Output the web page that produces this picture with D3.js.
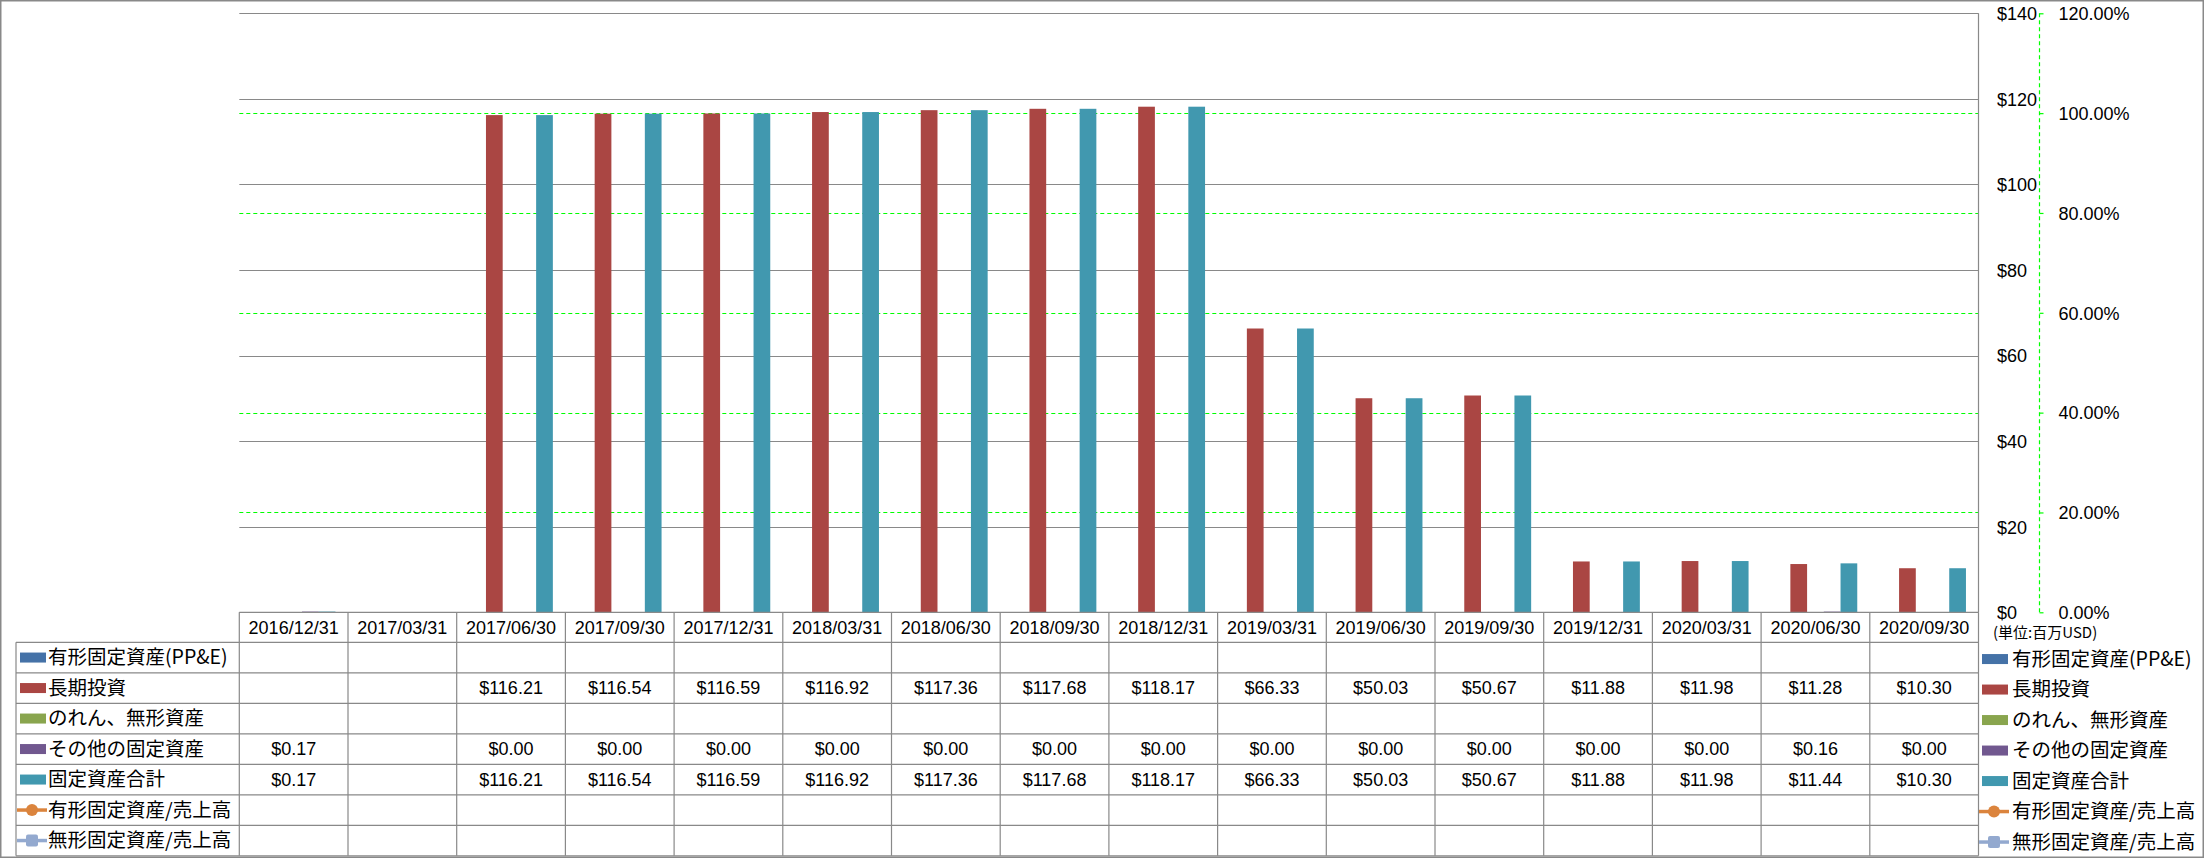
<!DOCTYPE html>
<html><head><meta charset="utf-8">
<script src="https://cdn.jsdelivr.net/npm/d3@7"></script>
<style>
html,body{margin:0;padding:0;background:#fff;}
svg{display:block;}
.lat{font-family:"Liberation Sans",Arial,sans-serif;font-size:18px;fill:#000;}
.jp{font-family:"Noto Sans CJK JP","Noto Sans CJK SC",sans-serif;font-size:19.5px;fill:#000;}
</style>
</head><body>
<svg id="chart" width="2205" height="858"></svg>
<script>
// ---- data ----
const categories = ["2016/12/31","2017/03/31","2017/06/30","2017/09/30","2017/12/31","2018/03/31","2018/06/30","2018/09/30","2018/12/31","2019/03/31","2019/06/30","2019/09/30","2019/12/31","2020/03/31","2020/06/30","2020/09/30"];
const ppe = [null,null,null,null,null,null,null,null,null,null,null,null,null,null,null,null];
const longTermInv = [null,null,116.21,116.54,116.59,116.92,117.36,117.68,118.17,66.33,50.03,50.67,11.88,11.98,11.28,10.30];
const goodwill = [null,null,null,null,null,null,null,null,null,null,null,null,null,null,null,null];
const otherFixed = [0.17,null,0.00,0.00,0.00,0.00,0.00,0.00,0.00,0.00,0.00,0.00,0.00,0.00,0.16,0.00];
const totalFixed = [0.17,null,116.21,116.54,116.59,116.92,117.36,117.68,118.17,66.33,50.03,50.67,11.88,11.98,11.44,10.30];
const ppeRatio = [null,null,null,null,null,null,null,null,null,null,null,null,null,null,null,null];
const intangRatio = [null,null,null,null,null,null,null,null,null,null,null,null,null,null,null,null];
const yTicks = [0,20,40,60,80,100,120,140];
const y2Ticks = [0,0.2,0.4,0.6,0.8,1.0,1.2];
const unitLabel = "(単位:百万USD)";

const barSeries = [
  {name:"有形固定資産(PP&E)", values:ppe, color:"#4572A7"},
  {name:"長期投資", values:longTermInv, color:"#AA4643"},
  {name:"のれん、無形資産", values:goodwill, color:"#89A54E"},
  {name:"その他の固定資産", values:otherFixed, color:"#71588F"},
  {name:"固定資産合計", values:totalFixed, color:"#4198AF"}
];
const lineSeries = [
  {name:"有形固定資産/売上高", values:ppeRatio, color:"#DB843D", marker:"circle"},
  {name:"無形固定資産/売上高", values:intangRatio, color:"#93A9CF", marker:"square"}
];
const allSeries = barSeries.concat(lineSeries);

// ---- layout ----
const W = 2205, H = 858;
const plotL = 239.3, plotR = 1978.5, plotT = 13.3, plotB = 612.3;
const tableL = 16, rowH = 30.5, headerH = 30;
const gray = "#898989";
const green = "#00FF00";

const svg = d3.select("#chart");
svg.append("rect").attr("x",0).attr("y",0).attr("width",W).attr("height",H).attr("fill","#fff");

const x = d3.scaleBand().domain(categories).range([plotL, plotR]).paddingInner(0).paddingOuter(0);
const xs = d3.scaleBand().domain(barSeries.map(s=>s.name)).range([0, x.bandwidth()]).paddingInner(0).paddingOuter(0.75);
const y = d3.scaleLinear().domain([0,140]).range([plotB, plotT]);
const y2 = d3.scaleLinear().domain([0,1.2]).range([plotB, plotT]);

// primary gridlines
svg.append("g").selectAll("line").data(yTicks).join("line")
  .attr("x1",plotL).attr("x2",plotR)
  .attr("y1",d=>Math.round(y(d))+0.5).attr("y2",d=>Math.round(y(d))+0.5)
  .attr("stroke",gray).attr("stroke-width",1.2);

// secondary gridlines (green dashed)
svg.append("g").selectAll("line").data(y2Ticks.filter(d=>d>0 && d<1.2)).join("line")
  .attr("x1",plotL).attr("x2",plotR)
  .attr("y1",d=>Math.round(y2(d))+0.5).attr("y2",d=>Math.round(y2(d))+0.5)
  .attr("stroke",green).attr("stroke-width",1.2).attr("stroke-dasharray","4,3");

// bars
const gBars = svg.append("g");
barSeries.forEach(s=>{
  gBars.append("g").selectAll("rect")
    .data(categories.map((c,i)=>({c, v:s.values[i]})).filter(d=>d.v!==null))
    .join("rect")
    .attr("x",d=>x(d.c)+xs(s.name))
    .attr("width",xs.bandwidth())
    .attr("y",d=>y(d.v))
    .attr("height",d=>y(0)-y(d.v))
    .attr("fill",s.color);
});

// right-side primary axis labels
const axisR = d3.axisRight(y).tickValues(yTicks).tickSize(0).tickPadding(0).tickFormat(d=>"$"+d);
const gAx = svg.append("g").attr("transform",`translate(1997,0)`).call(axisR);
gAx.select(".domain").remove();
gAx.selectAll("text").attr("class","lat").attr("font-family",null).attr("font-size",null).attr("fill","#000").attr("dy","0.35em");

// secondary axis (green dashed)
const axisR2 = d3.axisRight(y2).tickValues(y2Ticks).tickSize(4).tickPadding(15).tickFormat(d3.format(".2%"));
const gAx2 = svg.append("g").attr("transform",`translate(2039.5,0)`).call(axisR2);
gAx2.select(".domain").attr("stroke",green).attr("stroke-dasharray","4,3").attr("stroke-width",1.2)
  .attr("d",`M0,${plotT}V${plotB}`);
gAx2.selectAll(".tick line").attr("stroke",green).attr("stroke-width",1.2);
gAx2.selectAll("text").attr("class","lat").attr("font-family",null).attr("font-size",null).attr("fill","#000").attr("dy","0.35em");

// unit label
svg.append("text").attr("class","jp").attr("x",1993).attr("y",633).attr("dy","0.35em")
  .style("font-size","15px").text(unitLabel);

// ---- data table ----
const gT = svg.append("g");
const tableTop = plotB;
const bodyTop = tableTop + headerH;
const rowY = i => bodyTop + i*rowH;
const bodyBottom = rowY(allSeries.length);
// horizontal lines
gT.append("line").attr("x1",plotL).attr("x2",plotR).attr("y1",tableTop).attr("y2",tableTop).attr("stroke",gray).attr("stroke-width",1.2);
gT.selectAll("line.h").data(d3.range(allSeries.length+1)).join("line").attr("class","h")
  .attr("x1",tableL).attr("x2",plotR).attr("y1",d=>rowY(d)).attr("y2",d=>rowY(d))
  .attr("stroke",gray).attr("stroke-width",1.2);
// vertical lines at category boundaries
const bounds = categories.map(c=>x(c)).concat([plotR]);
gT.selectAll("line.v").data(bounds).join("line").attr("class","v")
  .attr("x1",d=>d).attr("x2",d=>d).attr("y1",tableTop).attr("y2",bodyBottom)
  .attr("stroke",gray).attr("stroke-width",1.2);
gT.append("line").attr("x1",tableL).attr("x2",tableL).attr("y1",bodyTop).attr("y2",bodyBottom).attr("stroke",gray).attr("stroke-width",1.2);
// plot right edge line
svg.append("line").attr("x1",plotR).attr("x2",plotR).attr("y1",plotT).attr("y2",plotB).attr("stroke",gray).attr("stroke-width",1.2);

// header labels
gT.selectAll("text.hdr").data(categories).join("text").attr("class","lat hdr")
  .attr("x",d=>x(d)+x.bandwidth()/2).attr("y",tableTop+headerH/2).attr("dy","0.35em")
  .attr("text-anchor","middle").text(d=>d);

// values
allSeries.forEach((s,si)=>{
  gT.append("g").selectAll("text")
    .data(categories.map((c,i)=>({c,v:s.values[i]})).filter(d=>d.v!==null))
    .join("text").attr("class","lat")
    .attr("x",d=>x(d.c)+x.bandwidth()/2).attr("y",rowY(si)+rowH/2).attr("dy","0.35em")
    .attr("text-anchor","middle").text(d=>"$"+d.v.toFixed(2));
});

// legend keys helper
function drawKey(g, s, kx, cy){
  if(s.marker){
    g.append("line").attr("x1",kx-3).attr("x2",kx+27).attr("y1",cy).attr("y2",cy).attr("stroke",s.color).attr("stroke-width",3.5);
    if(s.marker==="circle"){
      g.append("circle").attr("cx",kx+12).attr("cy",cy).attr("r",6).attr("fill",s.color);
    } else {
      g.append("rect").attr("x",kx+6).attr("y",cy-6).attr("width",12).attr("height",12).attr("rx",2).attr("fill",s.color);
    }
  } else {
    g.append("rect").attr("x",kx).attr("y",cy-5).attr("width",26).attr("height",10).attr("fill",s.color);
  }
}

// left legend column inside table
allSeries.forEach((s,si)=>{
  const cy = rowY(si)+rowH/2;
  drawKey(gT, s, 20, cy);
  gT.append("text").attr("class","jp").attr("x",48).attr("y",cy).attr("dy","0.35em").text(s.name);
});

// right legend
const gL = svg.append("g");
allSeries.forEach((s,si)=>{
  const cy = rowY(si)+rowH/2+1.5;
  drawKey(gL, s, 1982, cy);
  gL.append("text").attr("class","jp").attr("x",2012).attr("y",cy).attr("dy","0.35em").text(s.name);
});

// outer border
svg.append("rect").attr("x",0.75).attr("y",0.75).attr("width",W-2.5).attr("height",H-1.5)
  .attr("fill","none").attr("stroke",gray).attr("stroke-width",1.5);
</script>
</body></html>
